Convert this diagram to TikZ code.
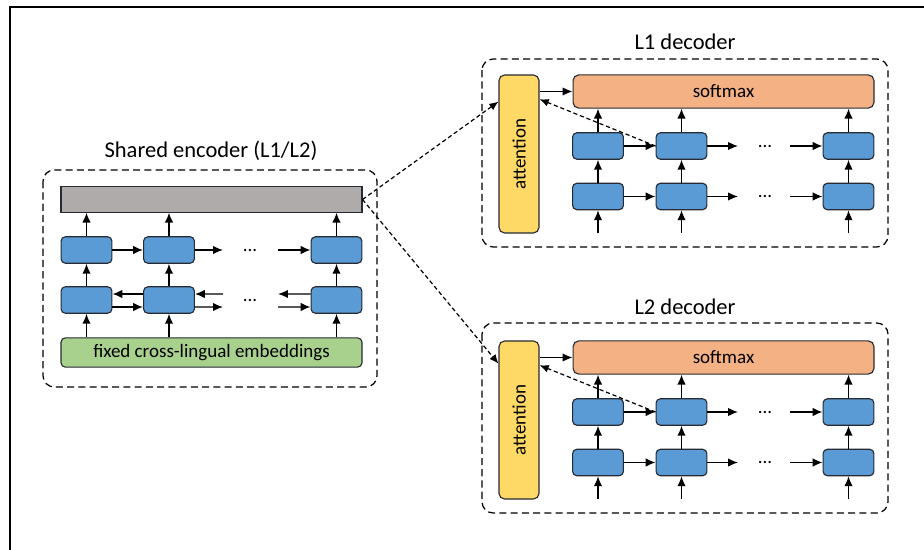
\documentclass[tikz,border=0pt]{standalone}
\usepackage{fontspec}
\setmainfont{Carlito}
\usetikzlibrary{arrows.meta}
\definecolor{cellblue}{RGB}{91,155,213}
\definecolor{hidgray}{RGB}{175,171,171}
\definecolor{embgreen}{RGB}{169,209,142}
\definecolor{smorange}{RGB}{244,177,131}
\definecolor{attyellow}{RGB}{255,217,102}
\definecolor{edge}{RGB}{38,42,50}
\tikzstyle{cell} = [rectangle, rounded corners=3pt, minimum width=1.27cm, minimum height=0.66cm, inner sep=0pt, draw=edge, line width=0.8pt, fill=cellblue]
\tikzstyle{hidden} = [rectangle, minimum width=7.52cm, minimum height=0.63cm, inner sep=0pt, draw=edge, line width=0.8pt, fill=hidgray]
\tikzstyle{embed} = [rectangle, rounded corners=3pt, minimum width=7.52cm, minimum height=0.73cm, inner sep=0pt, draw=edge, line width=0.8pt, fill=embgreen, font=\fontsize{13.5}{16}\selectfont]
\tikzstyle{outlayer} = [rectangle, rounded corners=4pt, minimum width=7.52cm, minimum height=0.83cm, inner sep=0pt, draw=edge, line width=0.8pt, fill=smorange, font=\fontsize{13.5}{16}\selectfont]
\tikzstyle{attn} = [rectangle, rounded corners=4pt, minimum width=1cm, minimum height=3.95cm, inner sep=0pt, draw=edge, line width=0.8pt, fill=attyellow, font=\fontsize{13.5}{16}\selectfont]
\tikzstyle{title} = [font=\fontsize{16}{19}\selectfont]
\tikzstyle{dots} = [font=\fontsize{13.5}{16}\selectfont]
\tikzstyle{group} = [rounded corners=8pt, line width=0.9pt, dash pattern=on 5pt off 3pt]
\tikzstyle{arrow} = [line width=1.05pt, -{Latex[length=7pt,width=6pt]}]
\tikzstyle{dasharrow} = [line width=0.85pt, dash pattern=on 3pt off 2pt, -{Latex[length=6.5pt,width=5.5pt]}]

\begin{document}
\begin{tikzpicture}[x=0.025cm, y=-0.025cm]
 \useasboundingbox (0,0) rectangle (924,550);
 \draw[line width=1.4pt] (10,551) -- (10,7) -- (925,7);

 % shared encoder
 \draw[group] (43,170) rectangle (377,387);
 \node (enctitle) [title] at (211,151) {Shared encoder (L1/L2)};
 \node (hid) [hidden] at (211.5,199.5) {};
 \node (emb) [embed] at (211.5,352.5) {fixed cross-lingual embeddings};
 \node (e11) [cell] at (86.5,250) {};
 \node (e12) [cell] at (169,250) {};
 \node (e13) [cell] at (336.5,250) {};
 \node (e21) [cell] at (86.5,300) {};
 \node (e22) [cell] at (169,300) {};
 \node (e23) [cell] at (336.5,300) {};
 \node (edots1) [dots] at (250,250) {...};
 \node (edots2) [dots] at (250,300) {...};
 \coordinate (eo1) at (223,250);
 \coordinate (ei1) at (278,250);
 \coordinate (eo2u) at (223,294);
 \coordinate (eo2d) at (223,307);
 \coordinate (ei2u) at (278,294);
 \coordinate (ei2d) at (278,307);

 \draw [arrow] (e11) -- (e12);
 \draw [arrow] (e12) -- (eo1);
 \draw [arrow] (ei1) -- (e13);
 \draw [arrow] ([yshift=0.15cm]e22.west) -- ([yshift=0.15cm]e21.east);
 \draw [arrow] ([yshift=-0.175cm]e21.east) -- ([yshift=-0.175cm]e22.west);
 \draw [arrow] (eo2u) -- ([yshift=0.15cm]e22.east);
 \draw [arrow] ([yshift=-0.175cm]e22.east) -- (eo2d);
 \draw [arrow] ([yshift=0.15cm]e23.west) -- (ei2u);
 \draw [arrow] (ei2d) -- ([yshift=-0.175cm]e23.west);
 \draw [arrow] (e21 |- emb.north) -- (e21);
 \draw [arrow] (e22 |- emb.north) -- (e22);
 \draw [arrow] (e23 |- emb.north) -- (e23);
 \draw [arrow] (e21) -- (e11);
 \draw [arrow] (e22) -- (e12);
 \draw [arrow] (e23) -- (e13);
 \draw [arrow] (e11) -- (e11 |- hid.south);
 \draw [arrow] (e12) -- (e12 |- hid.south);
 \draw [arrow] (e13) -- (e13 |- hid.south);

 % L1 decoder
 \draw[group] (482,59) rectangle (888,247);
 \node (ltitle) [title] at (685,42) {L1 decoder};
 \node (latt) [attn] at (519,154) {\rotatebox{90}{attention}};
 \node (lsm) [outlayer] at (723.5,91.5) {softmax};
 \node (lt1) [cell] at (598,146) {};
 \node (lt2) [cell] at (681.5,146) {};
 \node (lt3) [cell] at (848.5,146) {};
 \node (lb1) [cell] at (598,196.5) {};
 \node (lb2) [cell] at (681.5,196.5) {};
 \node (lb3) [cell] at (848.5,196.5) {};
 \node (ldots1) [dots] at (765,146) {...};
 \node (ldots2) [dots] at (765,196.5) {...};
 \coordinate (lo1) at (738,146);
 \coordinate (li1) at (790,146);
 \coordinate (lo2) at (738,196.5);
 \coordinate (li2) at (790,196.5);
 \coordinate (lin1) at (598,233);
 \coordinate (lin2) at (681.5,233);
 \coordinate (lin3) at (848.5,233);

 \draw [arrow] (latt.east |- lsm) -- (lsm.west);
 \draw [arrow] (lt1) -- (lt2);
 \draw [arrow] (lt2) -- (lo1);
 \draw [arrow] (li1) -- (lt3);
 \draw [arrow] (lb1) -- (lb2);
 \draw [arrow] (lb2) -- (lo2);
 \draw [arrow] (li2) -- (lb3);
 \draw [arrow] (lin1) -- (lb1);
 \draw [arrow] (lin2) -- (lb2);
 \draw [arrow] (lin3) -- (lb3);
 \draw [arrow] (lb1) -- (lt1);
 \draw [arrow] (lb2) -- (lt2);
 \draw [arrow] (lb3) -- (lt3);
 \draw [arrow] (lt1) -- (lt1 |- lsm.south);
 \draw [arrow] (lt2) -- (lt2 |- lsm.south);
 \draw [arrow] (lt3) -- (lt3 |- lsm.south);
 \draw [dasharrow] (lt2.west) -- ([yshift=-0.62cm]latt.north east);

 % L2 decoder
 \draw[group] (482,323) rectangle (888,513);
 \node (mtitle) [title] at (685,307) {L2 decoder};
 \node (matt) [attn] at (519,420) {\rotatebox{90}{attention}};
 \node (msm) [outlayer] at (723.5,357.5) {softmax};
 \node (mt1) [cell] at (598,412) {};
 \node (mt2) [cell] at (681.5,412) {};
 \node (mt3) [cell] at (848.5,412) {};
 \node (mb1) [cell] at (598,462.5) {};
 \node (mb2) [cell] at (681.5,462.5) {};
 \node (mb3) [cell] at (848.5,462.5) {};
 \node (mdots1) [dots] at (765,412) {...};
 \node (mdots2) [dots] at (765,462.5) {...};
 \coordinate (mo1) at (738,412);
 \coordinate (mi1) at (790,412);
 \coordinate (mo2) at (738,462.5);
 \coordinate (mi2) at (790,462.5);
 \coordinate (min1) at (598,499);
 \coordinate (min2) at (681.5,499);
 \coordinate (min3) at (848.5,499);

 \draw [arrow] (matt.east |- msm) -- (msm.west);
 \draw [arrow] (mt1) -- (mt2);
 \draw [arrow] (mt2) -- (mo1);
 \draw [arrow] (mi1) -- (mt3);
 \draw [arrow] (mb1) -- (mb2);
 \draw [arrow] (mb2) -- (mo2);
 \draw [arrow] (mi2) -- (mb3);
 \draw [arrow] (min1) -- (mb1);
 \draw [arrow] (min2) -- (mb2);
 \draw [arrow] (min3) -- (mb3);
 \draw [arrow] (mb1) -- (mt1);
 \draw [arrow] (mb2) -- (mt2);
 \draw [arrow] (mb3) -- (mt3);
 \draw [arrow] (mt1) -- (mt1 |- msm.south);
 \draw [arrow] (mt2) -- (mt2 |- msm.south);
 \draw [arrow] (mt3) -- (mt3 |- msm.south);
 \draw [dasharrow] (mt2.west) -- ([yshift=-0.62cm]matt.north east);

 % encoder to decoders
 \draw [dasharrow] (hid.east) -- ([yshift=-0.68cm]latt.north west);
 \draw [dasharrow] (hid.east) -- ([yshift=-0.58cm]matt.north west);
\end{tikzpicture}
\end{document}
